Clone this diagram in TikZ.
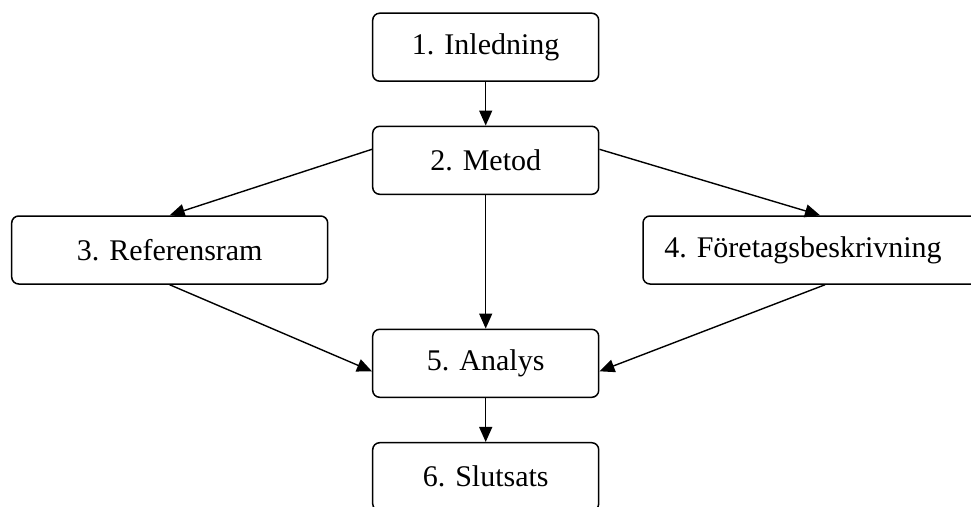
\documentclass[tikz,border=0pt]{standalone}
\usepackage{fontspec}
\setmainfont{Liberation Serif}
\usetikzlibrary{arrows.meta}

\tikzset{
  stage/.style={draw, line width=1.5pt, rounded corners=7pt, fill=white,
    minimum height=68pt, inner sep=0pt, font=\fontsize{30pt}{36pt}\selectfont},
  flow/.style={line width=1.4pt, -{Triangle[length=15pt, width=13pt]}}
}

\begin{document}
\begin{tikzpicture}[x=1pt, y=1pt]
  \useasboundingbox (0,0) rectangle (971,-506);
  \clip (0,0) rectangle (971,-506);

  % stages of the report
  \node[stage, minimum width=226pt] (n1) at (485.7,-47.2)  {1. Inledning};
  \node[stage, minimum width=226pt] (n2) at (485.7,-160.3) {2. Metod};
  \node[stage, minimum width=316pt] (n3) at (169.7,-250)   {3. Referensram};
  \node[stage, minimum width=358pt] (n4) at (822,-250)     {4. Företagsbeskrivning\hspace*{38pt}};
  \node[stage, minimum width=226pt] (n5) at (485.7,-363.3) {5. Analys};
  \node[stage, minimum width=226pt] (n6) at (485.7,-476.7) {6. Slutsats};

  % flow between the stages
  \draw[flow] (n1.south) -- (n2.north);
  \draw[flow] ([yshift=11pt]n2.west) -- (n3.north);
  \draw[flow] ([yshift=11pt]n2.east) -- ([xshift=-2pt]n4.north);
  \draw[flow] (n2.south) -- (n5.north);
  \draw[flow] (n3.south) -- ([yshift=-8pt]n5.west);
  \draw[flow] ([xshift=3pt]n4.south) -- ([yshift=-8pt]n5.east);
  \draw[flow] (n5.south) -- (n6.north);
\end{tikzpicture}
\end{document}
